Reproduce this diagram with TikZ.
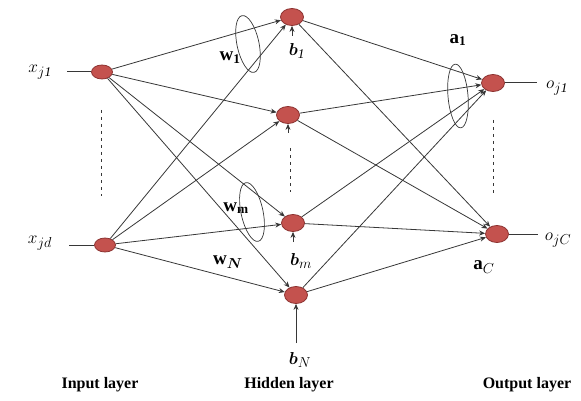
\documentclass[tikz,border=0pt]{standalone}
\usepackage{amsmath,bm}
\usepackage{fontspec}
\setmainfont{Liberation Serif}
\usetikzlibrary{arrows.meta}
\definecolor{nodered}{RGB}{196,82,78}
\definecolor{nodeedge}{RGB}{140,50,48}
\definecolor{linegray}{RGB}{55,55,55}
\tikzset{
  neuron/.style={ellipse, draw=nodeedge, fill=nodered, line width=0.8pt, minimum width=23pt, minimum height=17pt, inner sep=0pt},
  inneuron/.style={neuron, minimum width=21pt, minimum height=14pt},
  conn/.style={draw=linegray, line width=0.8pt, -{Stealth[length=6pt,width=5pt]}},
  plain/.style={draw=linegray, line width=1pt},
  dots/.style={draw=linegray, line width=0.9pt, dash pattern=on 3pt off 4pt},
  grp/.style={draw=linegray, line width=0.7pt},
  lbl/.style={font=\fontsize{19}{21}\selectfont},
  layerlbl/.style={font=\bfseries\fontsize{16}{18}\selectfont}
}
\usetikzlibrary{shapes.geometric}
\begin{document}
\begin{tikzpicture}[x=1pt,y=-1pt]
\useasboundingbox (0,0) rectangle (581,401);
% input nodes
\node[inneuron] (I1) at (102,72) {};
\node[inneuron] (Id) at (105,245) {};
% hidden nodes
\node[neuron] (H1) at (292,17) {};
\node[neuron] (H2) at (288,115) {};
\node[neuron] (Hm) at (293,223) {};
\node[neuron] (HN) at (296,295) {};
% output nodes
\node[neuron] (O1) at (493,83) {};
\node[neuron] (OC) at (497,234) {};
% input labels and lines
\node[lbl] (xl1) at (40,72) {$x_{j\mathit{1}}$};
\node[lbl] (xld) at (40,243) {$x_{jd}$};
\coordinate (xs1) at (67,72);
\coordinate (xsd) at (69,245);
\draw[plain] (xs1) -- (I1);
\draw[plain] (xsd) -- (Id);
% output labels and lines
\coordinate (oe1) at (537,83);
\coordinate (oeC) at (538,234);
\draw[plain] (O1) -- (oe1);
\draw[plain] (OC) -- (oeC);
\node[lbl] (ol1) at (557,88) {$o_{j\mathit{1}}$};
\node[lbl] (olC) at (558,240) {$o_{jC}$};
% input -> hidden
\foreach \i in {I1,Id}{
  \foreach \h in {H1,H2,Hm,HN}{
    \draw[conn] (\i) -- (\h);
  }
}
% hidden -> output
\foreach \h in {H1,H2,Hm,HN}{
  \foreach \o in {O1,OC}{
    \draw[conn] (\h) -- (\o);
  }
}
% biases
\coordinate (b1s) at (292,36);
\coordinate (b2s) at (288,133);
\coordinate (bms) at (293,242);
\coordinate (bNs) at (296,343);
\draw[conn] (b1s) -- (H1);
\draw[conn] (b2s) -- (H2);
\draw[conn] (bms) -- (Hm);
\draw[conn] (bNs) -- (HN);
\node[lbl] (bl1) at (297,51) {$\bm{b}_{\mathit{1}}$};
\node[lbl] (blm) at (301,261) {$\bm{b}_m$};
\node[lbl] (blN) at (300,360) {$\bm{b}_N$};
% weight labels
\node[lbl] (wl1) at (230,58) {$\mathbf{w}_{\mathbf{1}}$};
\node[lbl] (wlm) at (236,208) {$\mathbf{w}_{\mathbf{m}}$};
\node[lbl] (wlN) at (228,262) {$\mathbf{w}_{\bm{N}}$};
\node[lbl] (al1) at (458,40) {$\mathbf{a}_{\mathbf{1}}$};
\node[lbl] (alC) at (484,267) {$\mathbf{a}_C$};
% grouping ellipses
\draw[grp] (248,44) ellipse[x radius=11, y radius=29, rotate=12];
\draw[grp] (252,212) ellipse[x radius=11, y radius=30, rotate=12];
\draw[grp] (458,96) ellipse[x radius=10, y radius=32, rotate=5];
% dotted vertical lines
\coordinate (dI1) at (101,110); \coordinate (dI2) at (101,196);
\coordinate (dH1) at (290,148); \coordinate (dH2) at (290,192);
\coordinate (dO1) at (493,120); \coordinate (dO2) at (493,196);
\draw[dots] (dI1) -- (dI2);
\draw[dots] (dH1) -- (dH2);
\draw[dots] (dO1) -- (dO2);
% layer labels
\node[layerlbl] (L1) at (100,385) {Input layer};
\node[layerlbl] (L2) at (289,385) {Hidden layer};
\node[layerlbl] (L3) at (527,385) {Output layer};
\end{tikzpicture}
\end{document}
